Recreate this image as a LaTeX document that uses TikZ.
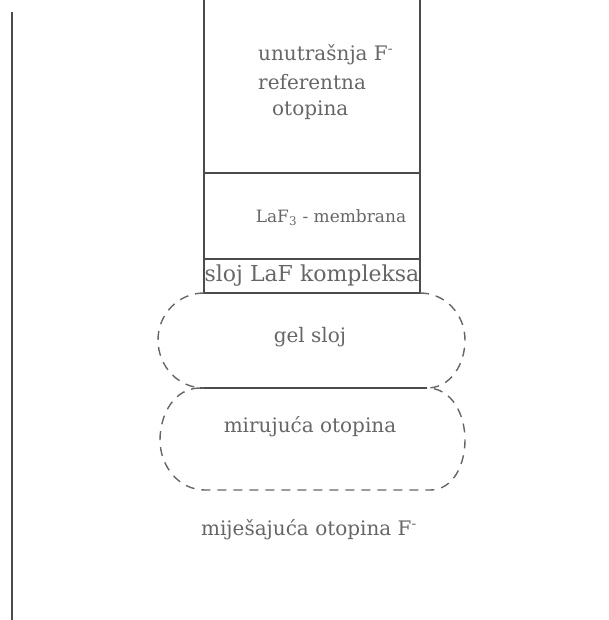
\documentclass[tikz,border=0pt]{standalone}
\usepackage{fontspec}
\setmainfont{DejaVu Serif}
\usepackage{tikz}
\usetikzlibrary{calc}

\begin{document}
\begin{tikzpicture}[x=1pt,y=1pt,
    wall/.style={draw=black!70,line width=1.2pt},
    layer/.style={draw=black!60,line width=1.4pt,dash pattern=on 9pt off 7pt},
    lbl/.style={text=black!60,inner sep=0pt,font=\fontsize{20}{24}\selectfont}]
              \useasboundingbox (0,0) rectangle (608,-620);
              \draw[wall] (12,-12) -- (12,-620);
              \draw[wall] (204,0) -- (204,-293) -- (420,-293) -- (420,0);
              \draw[wall] (204,-173) -- (420,-173);
              \draw[wall] (204,-259) -- (420,-259);
              \draw[wall] (200,-388) -- (427,-388);
              \draw[layer] (204,-293) to[out=180,in=90] (158,-340) to[out=-90,in=180] (204,-388);
              \draw[layer] (420,-293) to[out=0,in=90] (465,-340) to[out=-90,in=0] (427,-388);
              \draw[layer] (200,-388) to[out=180,in=90] (160,-440) to[out=-90,in=180] (205,-490)
                -- (430,-490) to[out=0,in=-90] (465,-440) to[out=90,in=0] (427,-388);
              \node[lbl,anchor=west](ref1)at(258,-55){unutrašnja F\textsuperscript{-}};
              \node[lbl,anchor=west](ref2)at(258,-82){referentna};
              \node[lbl,anchor=west](ref3)at(272,-110){otopina};
              \node[lbl,font=\fontsize{17}{20}\selectfont](mem)at(331,-218){LaF\textsubscript{3} - membrana};
              \node[lbl,font=\fontsize{22}{26}\selectfont](kom)at(312,-276){sloj LaF kompleksa};
              \node[lbl](gel)at(310,-337){gel sloj};
              \node[lbl](mir)at(310,-427){mirujuća otopina};
              \node[lbl](mij)at(309,-530){miješajuća otopina F\textsuperscript{-}};
            \end{tikzpicture}
\end{document}
